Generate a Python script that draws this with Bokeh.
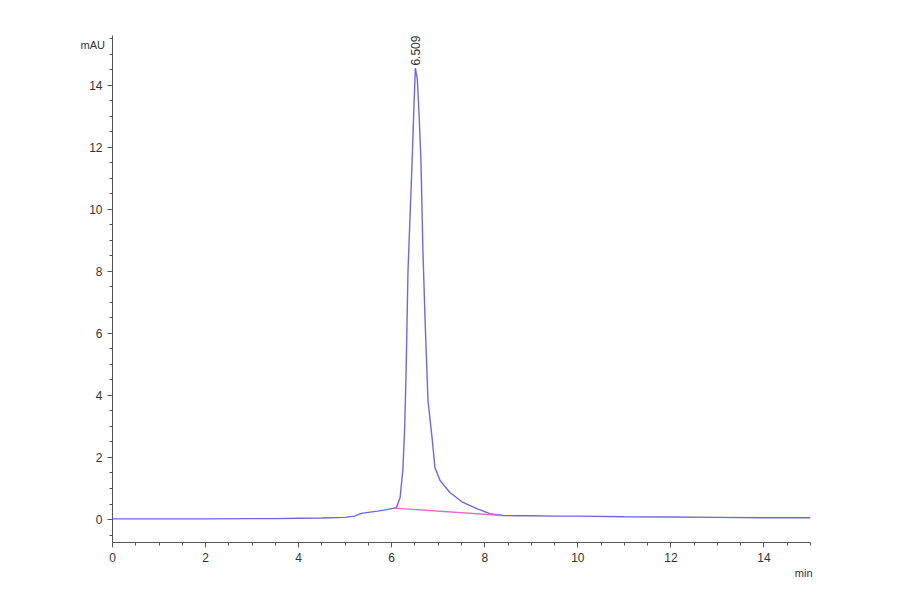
import numpy as np
from bokeh.plotting import figure
from bokeh.models import Range1d, Title, FixedTicker, ColumnDataSource
from bokeh.core.properties import value
from bokeh.embed import file_html
from bokeh.resources import INLINE

# Chromatogram signal (time in min, absorbance in mAU)
time_min = [0, 1, 2, 3, 3.5, 4, 4.5, 5.0, 5.2, 5.35, 5.5, 5.7, 5.9, 6.0, 6.10,
            6.18, 6.24, 6.28, 6.31, 6.35, 6.40, 6.44, 6.48, 6.509, 6.55, 6.59,
            6.63, 6.67, 6.72, 6.78, 6.87, 6.93, 7.04, 7.25, 7.53, 7.83, 8.11,
            8.39, 8.7, 9.0, 9.5, 10, 11, 12, 13, 14, 15]
signal_mau = [0.02, 0.02, 0.02, 0.03, 0.03, 0.04, 0.05, 0.07, 0.11, 0.2, 0.23,
              0.27, 0.32, 0.35, 0.38, 0.7, 1.6, 3.0, 4.8, 8.0, 10.0, 11.6, 13.4,
              14.55, 14.2, 13.0, 11.5, 8.7, 6.3, 3.83, 2.6, 1.67, 1.26, 0.87,
              0.55, 0.35, 0.19, 0.13, 0.12, 0.12, 0.11, 0.11, 0.09, 0.08, 0.07,
              0.06, 0.06]

# Integration baseline
baseline_t = [6.05, 8.37]
baseline_v = [0.37, 0.13]

# Peak annotation
peak_t = [6.509]
peak_v = [14.55]
peak_lbl = ["6.509"]

x_major = [0, 2, 4, 6, 8, 10, 12, 14]
y_major = [0, 2, 4, 6, 8, 10, 12, 14]

FONT = "Liberation Sans"

p = figure(width=890, height=584, output_backend="svg", toolbar_location=None,
           x_range=Range1d(0, 15), y_range=Range1d(-0.74, 15.6),
           min_border_left=112, min_border_right=80, min_border_top=35,
           min_border_bottom=42)
p.outline_line_color = None
p.xgrid.visible = False
p.ygrid.visible = False
p.background_fill_color = "white"
p.border_fill_color = "white"

for ax, majors in ((p.xaxis, x_major), (p.yaxis, y_major)):
    minors = [m / 2 for m in range(-2, 32)]
    ax.ticker = FixedTicker(ticks=majors, minor_ticks=minors)
    ax.axis_line_color = "#555555"
    ax.major_tick_line_color = "#555555"
    ax.minor_tick_line_color = "#555555"
    ax.major_tick_out = 5
    ax.major_tick_in = 0
    ax.minor_tick_out = 3
    ax.minor_tick_in = 0
    ax.major_label_text_font = FONT
    ax.major_label_text_font_size = "12px"
    ax.major_label_text_color = "#333333"
    ax.major_label_standoff = 5

p.line(time_min, signal_mau, line_color="#6a6ae0", line_width=1.4)
p.line(baseline_t, baseline_v, line_color="#ee66cc", line_width=1.3)

src = ColumnDataSource(dict(x=peak_t, y=[v + 0.08 for v in peak_v], t=peak_lbl))
p.text(x="x", y="y", text="t", source=src, angle=np.pi / 2,
       text_align="left", text_baseline="middle", text_font=value(FONT),
       text_font_size="12px", text_color="#333333")

p.add_layout(Title(text="mAU", align="left", offset=-32, standoff=-30,
                   text_font=FONT, text_font_size="11px",
                   text_font_style="normal", text_color="#333333"), "above")
p.add_layout(Title(text="min", align="right", offset=-2, standoff=0,
                   text_font=FONT, text_font_size="11px",
                   text_font_style="normal", text_color="#333333"), "below")

open("out.html", "w").write(file_html(p, INLINE))
